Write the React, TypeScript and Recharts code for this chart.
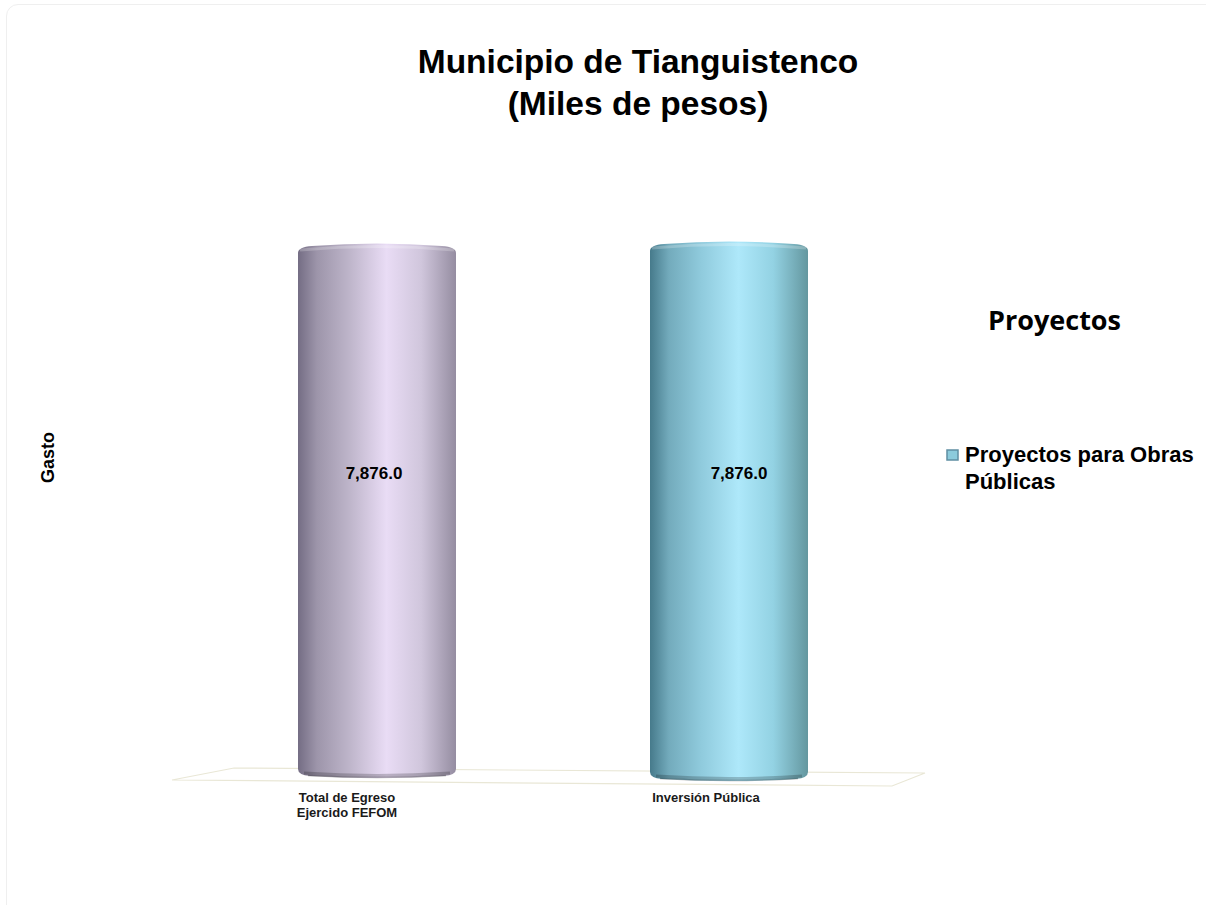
import React from 'react';
import { BarChart, Bar, XAxis, YAxis, LabelList, Legend, Customized } from 'recharts';

const categories = ['Total de Egreso\nEjercido FEFOM', 'Inversión Pública'];
const values = [7876.0, 7876.0];
const chartData = categories.map((name, i) => ({ name, gasto: values[i] }));
const titleLines = ['Municipio de Tianguistenco', '(Miles de pesos)'];
const yAxisTitle = 'Gasto';
const legendTitle = 'Proyectos';
const legendLines = ['Proyectos para Obras', 'Públicas'];

const palettes = [
  ['#746d84', '#9d95aa', '#bdb4c9', '#e9dcf5', '#d0c6dc', '#958da1'],
  ['#467a8b', '#73abbc', '#8fcadc', '#aee8fa', '#93d2e3', '#64979f'],
];
const stops = ['0%', '12%', '32%', '56%', '78%', '100%'];
const valueLabelShift = [-3, 10];
const tickShift = [-30, -23];
const barTopShift = [1, -1];
const barBottomShift = [-2, 1];

function Cylinder(props: any) {
  const { x, y, width, height, index } = props;
  const top = y + barTopShift[index];
  const bottom = y + height + barBottomShift[index];
  const r = 9;
  const d = `M${x},${top + r} Q${x},${top + 3} ${x + 14},${top + 2} Q${x + width / 2},${top - 3} ${x + width - 14},${top + 2} Q${x + width},${top + 3} ${x + width},${top + r} L${x + width},${bottom - r} Q${x + width},${bottom - 3} ${x + width - 12},${bottom - 2} Q${x + width / 2},${bottom + 2} ${x + 12},${bottom - 2} Q${x},${bottom - 3} ${x},${bottom - r} Z`;
  return (
    <g>
      <path d={d} fill={`url(#cyl${index})`} />
      <path d={`M${x + 2},${top + 6} Q${x + width / 2},${top - 1} ${x + width - 2},${top + 6}`} fill="none" stroke="#ffffff" strokeOpacity={0.22} strokeWidth={3} />
      <path d={`M${x + 6},${bottom - 5} Q${x + width / 2},${bottom} ${x + width - 6},${bottom - 5}`} fill="none" stroke="#000000" strokeOpacity={0.2} strokeWidth={3} />
      <path d={`M${x + 10},${bottom - 2.5} Q${x + width / 2},${bottom + 1.5} ${x + width - 10},${bottom - 2.5}`} fill="none" stroke="#000000" strokeOpacity={0.28} strokeWidth={1.5} />
    </g>
  );
}

function ValueLabel(props: any) {
  const { x, y, width, height, value, index } = props;
  const text = Number(value).toLocaleString('en-US', { minimumFractionDigits: 1, maximumFractionDigits: 1 });
  return (
    <text x={x + width / 2 + valueLabelShift[index]} y={y + height / 2 - 38} textAnchor="middle" dominantBaseline="central" fontFamily="Liberation Sans" fontWeight={700} fontSize={17} fill="#000">
      {text}
    </text>
  );
}

function CategoryTick(props: any) {
  const { x, y, payload, index } = props;
  const lines = String(payload.value).split('\n');
  const cx = x + tickShift[index];
  return (
    <text x={cx} y={y + 16} textAnchor="middle" fontFamily="Liberation Sans" fontWeight="bold" fontSize={13} fill="#1a1a1a">
      {lines.map((l: string, i: number) => (
        <tspan key={l} x={cx} dy={i === 0 ? 0 : 15}>{l}</tspan>
      ))}
    </text>
  );
}

function Floor() {
  return (
    <polygon points="172,780 234,768 925,773 892,786" fill="#ffffff" stroke="#e9e7d6" strokeWidth={1.2} />
  );
}

function LegendBox() {
  return (
    <div style={{ position: 'relative', width: 260, height: 190, fontFamily: 'Liberation Sans', color: '#000' }}>
      <div style={{ position: 'absolute', left: 42, top: 0, fontFamily: 'Open Sans', fontWeight: 700, fontSize: 27, lineHeight: '36px', whiteSpace: 'nowrap' }}>{legendTitle}</div>
      <svg style={{ position: 'absolute', left: 0, top: 147 }} width={14} height={14}>
        <rect x={1} y={1} width={11} height={10} fill="#8ccbdc" stroke="#5f8fa3" strokeWidth={1.5} />
      </svg>
      <div style={{ position: 'absolute', left: 19, top: 139, fontWeight: 700, fontSize: 22, lineHeight: '27px', whiteSpace: 'nowrap' }}>
        {legendLines.map((l) => <div key={l}>{l}</div>)}
      </div>
    </div>
  );
}

export default function App() {
  return (
    <div style={{ position: 'absolute', left: 0, top: 0, width: 1206, height: 905, background: '#fff', overflow: 'hidden' }}>
      <div style={{ position: 'absolute', left: 6, top: 4, width: 1230, height: 920, border: '1px solid #efefef', borderRadius: 12 }} />
      <div style={{ position: 'absolute', left: 338, top: 41, width: 600, textAlign: 'center', fontFamily: 'Liberation Sans', fontWeight: 700, fontSize: 33.5, lineHeight: '42px', color: '#000' }}>
        {titleLines.map((l) => <div key={l}>{l}</div>)}
      </div>
      <BarChart width={1206} height={905} data={chartData} margin={{ top: 243, right: 41, bottom: 0, left: 0 }} style={{ position: 'absolute', left: 0, top: 0 }}>
        <defs>
          {palettes.map((p, i) => (
            <linearGradient key={i} id={`cyl${i}`} x1="0" y1="0" x2="1" y2="0">
              {p.map((c, j) => <stop key={j} offset={stops[j]} stopColor={c} />)}
            </linearGradient>
          ))}
        </defs>
        <Customized component={Floor} />
        <XAxis dataKey="name" axisLine={false} tickLine={false} tick={<CategoryTick />} interval={0} tickMargin={0} height={125} />
        <YAxis width={201} domain={[0, 7876]} tick={false} axisLine={false} tickLine={false} label={{ value: yAxisTitle, angle: -90, position: 'insideLeft', offset: 48, dy: -54, style: { fontFamily: 'Liberation Sans', fontWeight: 700, fontSize: 18, fill: '#000', textAnchor: 'middle' } }} />
        <Legend content={<LegendBox />} layout="vertical" align="right" verticalAlign="top" wrapperStyle={{ position: 'absolute', left: 946, top: 302, width: 260 }} />
        <Bar dataKey="gasto" barSize={158} shape={<Cylinder />} isAnimationActive={false}>
          <LabelList dataKey="gasto" content={<ValueLabel />} />
        </Bar>
      </BarChart>
    </div>
  );
}
